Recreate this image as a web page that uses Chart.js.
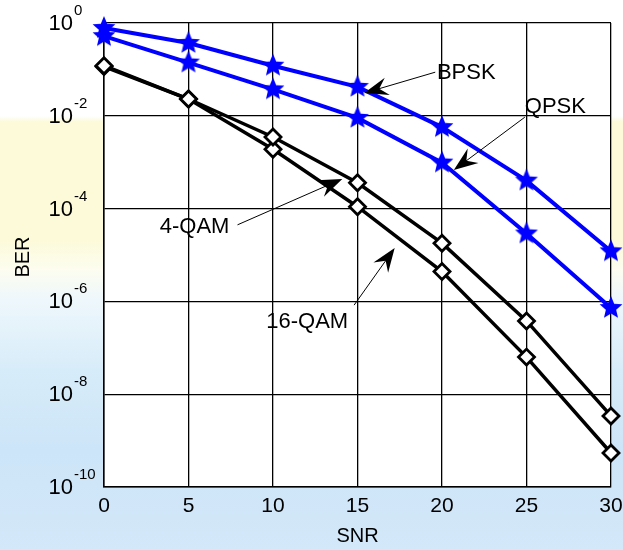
<!DOCTYPE html>
<html>
<head>
<meta charset="utf-8">
<script src="https://cdn.jsdelivr.net/npm/chart.js@4"></script>
<style>
  body {
    margin: 0;
    width: 623px;
    height: 550px;
    overflow: hidden;
    background: linear-gradient(to bottom, #ffffff 0px, #ffffff 116px, #fcfad9 122px, #fcfad9 240px,
      #fdfdf0 270px, #eef7fc 300px, #d7ecf9 370px, #cde5f8 450px, #d3e8f9 550px);
  }
  canvas { display: block; }
</style>
</head>
<body>
<canvas id="berChart" width="623" height="550"></canvas>
<script>
// SNR (dB) on x, BER on a log y axis
const snr = [0, 5, 10, 15, 20, 25, 30];
const berBPSK = [0.78, 0.37, 0.12, 0.042, 0.0057, 4.0e-4, 1.2e-5];
const berQPSK = [0.52, 0.14, 0.037, 0.009, 9.8e-4, 2.9e-5, 7.2e-7];
const ber4QAM = [0.12, 0.023, 0.0035, 3.6e-4, 1.8e-5, 3.8e-7, 3.4e-9];
const ber16QAM = [0.115, 0.023, 0.0019, 1.1e-4, 4.4e-6, 6.3e-8, 5.4e-10];

const yTickExps = [0, -2, -4, -6, -8, -10];
const xTicks = [0, 5, 10, 15, 20, 25, 30];

// text labels with arrows, in data units (x = SNR, y = log10 BER)
const notes = [
  { text: 'BPSK', tx: 19.7, ty: -1.08, from: [19.6, -1.06], to: [15.4, -1.51] },
  { text: 'QPSK', tx: 24.9, ty: -1.81, from: [24.9, -2.03], to: [20.7, -3.17] },
  { text: '4-QAM', tx: 3.3, ty: -4.4, from: [7.9, -4.35], to: [14.1, -3.36] },
  { text: '16-QAM', tx: 9.6, ty: -6.45, from: [14.8, -6.08], to: [17.2, -4.85] },
];

function makeStar(r, color) {
  const c = document.createElement('canvas');
  c.width = c.height = r * 2 + 2;
  const g = c.getContext('2d');
  const cx = r + 1, cy = r + 1, inner = r * 0.45;
  g.beginPath();
  for (let i = 0; i < 10; i++) {
    const rad = i % 2 === 0 ? r : inner;
    const a = -Math.PI / 2 + i * Math.PI / 5;
    g.lineTo(cx + rad * Math.cos(a), cy + rad * Math.sin(a));
  }
  g.closePath();
  g.fillStyle = color;
  g.fill();
  return c;
}
const star = makeStar(12, '#0000ff');

function series(label, data, color, marker) {
  const ds = {
    label: label,
    data: snr.map((x, i) => ({ x: x, y: data[i] })),
    borderColor: color,
    borderWidth: color === '#0000ff' ? 4 : 3.5,
    tension: 0,
    clip: false,
    pointStyle: marker,
    pointRadius: 8,
    pointBackgroundColor: '#ffffff',
    pointBorderColor: color,
    pointBorderWidth: 2.8,
  };
  if (marker !== 'rectRot') {
    ds.pointBackgroundColor = color;
    ds.pointBorderWidth = 0;
  }
  return ds;
}

const overlay = {
  id: 'overlay',
  beforeDraw(chart) {
    const a = chart.chartArea, ctx = chart.ctx;
    ctx.save();
    ctx.fillStyle = '#ffffff';
    ctx.fillRect(a.left, a.top, a.right - a.left, a.bottom - a.top);
    ctx.restore();
  },
  afterDraw(chart) {
    const ctx = chart.ctx;
    const xs = chart.scales.x, ys = chart.scales.y;
    const a = chart.chartArea;
    ctx.save();
    ctx.fillStyle = '#000';
    ctx.strokeStyle = '#000';

    // y tick labels 10^n
    yTickExps.forEach(e => {
      const py = ys.getPixelForValue(Math.pow(10, e));
      ctx.font = '22px Arial, "Liberation Sans", sans-serif';
      ctx.textAlign = 'right';
      ctx.textBaseline = 'middle';
      ctx.fillText('10', 73, py + 1);
      ctx.font = '15px Arial, "Liberation Sans", sans-serif';
      ctx.textAlign = 'left';
      ctx.textBaseline = 'alphabetic';
      ctx.fillText(String(e), 74, py - 8);
    });

    // x tick labels
    ctx.font = '21px Arial, "Liberation Sans", sans-serif';
    ctx.textAlign = 'center';
    ctx.textBaseline = 'middle';
    xTicks.forEach(v => ctx.fillText(String(v), xs.getPixelForValue(v), 506));

    // axis titles
    ctx.font = '20px Arial, "Liberation Sans", sans-serif';
    ctx.fillText('SNR', (a.left + a.right) / 2, 536);
    ctx.save();
    ctx.translate(23, 257);
    ctx.rotate(-Math.PI / 2);
    ctx.fillText('BER', 0, 0);
    ctx.restore();

    // annotations
    const px = p => [xs.getPixelForValue(p[0]), ys.getPixelForValue(Math.pow(10, p[1]))];
    notes.forEach(n => {
      const [t0, t1] = px([n.tx, n.ty]);
      ctx.font = '22px Arial, "Liberation Sans", sans-serif';
      ctx.textAlign = 'left';
      ctx.textBaseline = 'middle';
      ctx.fillText(n.text, t0, t1);
      const [x1, y1] = px(n.from), [x2, y2] = px(n.to);
      const ang = Math.atan2(y2 - y1, x2 - x1);
      const L = 24, W = 9;
      ctx.lineWidth = 1;
      ctx.beginPath();
      ctx.moveTo(x1, y1);
      ctx.lineTo(x2 - Math.cos(ang) * L * 0.6, y2 - Math.sin(ang) * L * 0.6);
      ctx.stroke();
      const bx = x2 - Math.cos(ang) * L, by = y2 - Math.sin(ang) * L;
      const nx = -Math.sin(ang) * W, ny = Math.cos(ang) * W;
      ctx.beginPath();
      ctx.moveTo(x2, y2);
      ctx.lineTo(bx + nx, by + ny);
      ctx.lineTo(x2 - Math.cos(ang) * L * 0.65, y2 - Math.sin(ang) * L * 0.65);
      ctx.lineTo(bx - nx, by - ny);
      ctx.closePath();
      ctx.fill();
    });
    ctx.restore();
  }
};

const berChart = new Chart(document.getElementById('berChart'), {
  type: 'line',
  data: {
    datasets: [
      series('4-QAM', ber4QAM, '#000000', 'rectRot'),
      series('16-QAM', ber16QAM, '#000000', 'rectRot'),
      series('BPSK', berBPSK, '#0000ff', star),
      series('QPSK', berQPSK, '#0000ff', star),
    ]
  },
  options: {
    responsive: false,
    animation: false,
    layout: { padding: { top: 23, right: 12, left: 0, bottom: 0 } },
    plugins: { legend: { display: false }, tooltip: { enabled: false } },
    scales: {
      x: {
        type: 'linear',
        min: 0,
        max: 30,
        ticks: { display: false, stepSize: 5 },
        grid: { color: '#000', lineWidth: 1.3, drawTicks: false },
        border: { color: '#000', width: 1.5 },
        afterFit: s => { s.height = 63; },
      },
      y: {
        type: 'logarithmic',
        min: 1e-10,
        max: 1,
        ticks: { display: false },
        afterBuildTicks: s => { s.ticks = yTickExps.map(e => ({ value: Math.pow(10, e) })); },
        grid: { color: '#000', lineWidth: 1.3, drawTicks: false },
        border: { color: '#000', width: 1.5 },
        afterFit: s => { s.width = 104; },
      }
    }
  },
  plugins: [overlay]
});
</script>
</body>
</html>
